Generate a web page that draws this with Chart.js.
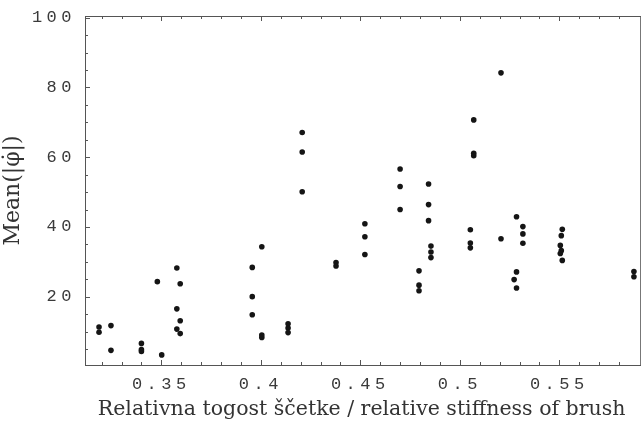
<!DOCTYPE html>
<html>
<head>
<meta charset="utf-8">
<script src="https://cdn.jsdelivr.net/npm/chart.js@4/dist/chart.umd.min.js"></script>
<style>
  html, body { margin: 0; padding: 0; background: #fff; }
  canvas { display: block; }
</style>
</head>
<body>
<canvas id="scatter" width="641" height="425"></canvas>
<script>
// --------------------- Data ---------------------
const stiffness = [
  0.3187, 0.3187, 0.3247, 0.3247, 0.340, 0.340, 0.340, 0.348, 0.3502,
  0.3578, 0.3595, 0.3578, 0.3595, 0.3578, 0.3595,
  0.3957, 0.3957, 0.3957, 0.4005, 0.4005, 0.4005,
  0.4137, 0.4137, 0.4137, 0.4208, 0.4208, 0.4208,
  0.4378, 0.4378, 0.4523, 0.4523, 0.4523,
  0.470, 0.470, 0.470, 0.4795, 0.4795, 0.4795,
  0.4843, 0.4843, 0.4843, 0.4855, 0.4855, 0.4855,
  0.5053, 0.5053, 0.5053, 0.507, 0.507, 0.507,
  0.5207, 0.5207, 0.5285, 0.5317, 0.5317, 0.5317, 0.5285, 0.5273, 0.5285,
  0.5515, 0.551, 0.5505, 0.551, 0.5505, 0.5515,
  0.5875, 0.5875
];
const meanPhiDot = [
  11.3, 9.8, 11.7, 4.6, 6.6, 4.8, 4.3, 24.3, 3.3,
  28.2, 23.7, 16.5, 13.1, 10.7, 9.4,
  28.4, 20.0, 14.8, 34.3, 9.0, 8.3,
  12.2, 11.0, 9.7, 67.1, 61.5, 50.1,
  29.8, 28.8, 40.9, 37.2, 32.1,
  56.6, 51.6, 45.0, 27.4, 23.3, 21.7,
  52.3, 46.4, 41.8, 34.5, 32.8, 31.2,
  39.2, 35.4, 34.0, 70.7, 61.1, 60.4,
  84.2, 36.6, 42.9, 40.1, 38.0, 35.3, 27.1, 24.9, 22.5,
  39.3, 37.5, 34.7, 33.2, 32.4, 30.4,
  27.2, 25.7
];

// tick marks
const xTicks = [0.35, 0.4, 0.45, 0.5, 0.55];
const xMinorTicks = [0.32, 0.33, 0.34, 0.36, 0.37, 0.38, 0.39, 0.41, 0.42, 0.43, 0.44,
  0.46, 0.47, 0.48, 0.49, 0.51, 0.52, 0.53, 0.54, 0.56, 0.57, 0.58];
const yTicks = [20, 40, 60, 80, 100];
const yMinorTicks = [5, 10, 15, 25, 30, 35, 45, 50, 55, 65, 70, 75, 85, 90, 95];

const points = stiffness.map((x, i) => ({ x, y: meanPhiDot[i] }));

// --------------------- Plugins ---------------------
// spaced-out typewriter tick labels (drawn after datasets, ticks.z = 1)
const spacedTicks = {
  id: 'spacedTicks',
  afterDatasetsDraw(chart) { chart.ctx.letterSpacing = '4.5px'; },
  afterDraw(chart) { chart.ctx.letterSpacing = '0px'; }
};

// Mathematica-like frame with inward ticks
const frameTicks = {
  id: 'frameTicks',
  afterDraw(chart) {
    const { ctx, chartArea: a, scales: { x, y } } = chart;
    ctx.save();
    ctx.strokeStyle = '#555';
    ctx.lineWidth = 1;
    ctx.strokeRect(a.left + 0.5, a.top + 0.5, a.right - a.left + 2, a.bottom - a.top);
    const tick = (x1, y1, x2, y2) => { ctx.beginPath(); ctx.moveTo(x1, y1); ctx.lineTo(x2, y2); ctx.stroke(); };
    const xt = (v, len) => {
      const px = Math.round(x.getPixelForValue(v)) + 0.5;
      tick(px, a.bottom, px, a.bottom - len);
      tick(px, a.top, px, a.top + len);
    };
    const yt = (v, len) => {
      const py = Math.round(y.getPixelForValue(v)) + 0.5;
      tick(a.left, py, a.left + len, py);
    };
    xTicks.forEach(v => xt(v, 5));
    xMinorTicks.forEach(v => xt(v, 3));
    yTicks.forEach(v => yt(v, 5));
    yMinorTicks.forEach(v => yt(v, 3));
    ctx.restore();
  }
};

// --------------------- Chart ---------------------
const tickFont = { family: '"Liberation Mono", "Courier New", monospace', size: 17 };
const serif = '"DejaVu Serif", serif';

new Chart(document.getElementById('scatter').getContext('2d'), {
  type: 'scatter',
  data: {
    datasets: [{
      data: points,
      backgroundColor: '#151515',
      borderWidth: 0,
      pointRadius: 2.8,
      pointHoverRadius: 2.8
    }]
  },
  options: {
    responsive: false,
    animation: false,
    layout: { padding: { top: 16, right: 0, left: 0, bottom: 0 } },
    plugins: { legend: { display: false }, tooltip: { enabled: false } },
    scales: {
      x: {
        type: 'linear',
        min: 0.31165,
        max: 0.58965,
        afterBuildTicks: (s) => { s.ticks = xTicks.map(v => ({ value: v })); },
        afterFit: (s) => { s.height = 60; },
        grid: { display: false },
        border: { display: false },
        ticks: {
          z: 1, padding: 1, color: '#3a3a3a', font: tickFont,
          maxRotation: 0, autoSkip: false,
          callback: (v) => String(+v.toFixed(2))
        },
        title: {
          display: true,
          text: 'Relativna togost ščetke / relative stiffness of brush',
          color: '#333', font: { family: serif, size: 20.5 },
          padding: { top: 0, bottom: 3 }
        }
      },
      y: {
        min: 0.4,
        max: 100.5,
        afterBuildTicks: (s) => { s.ticks = yTicks.map(v => ({ value: v })); },
        afterFit: (s) => { s.width = 85; },
        grid: { display: false },
        border: { display: false },
        ticks: { z: 1, padding: 1, color: '#3a3a3a', font: tickFont },
        title: {
          display: true,
          text: 'Mean(|φ̇|)',
          color: '#333', font: { family: serif, size: 22 },
          padding: { top: 0, bottom: 0 }
        }
      }
    }
  },
  plugins: [spacedTicks, frameTicks]
});
</script>
</body>
</html>
